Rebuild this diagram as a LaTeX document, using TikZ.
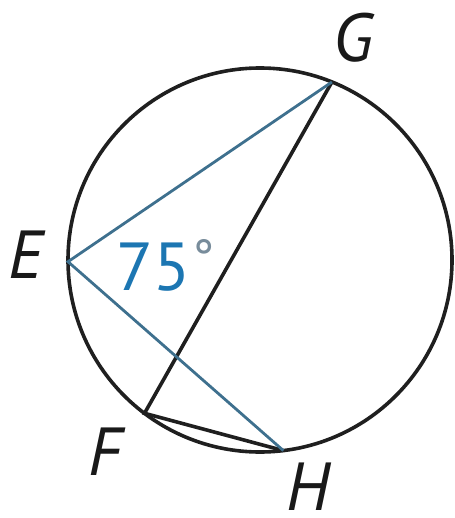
\documentclass[tikz,border=0pt]{standalone}
\usepackage{fontspec}
\setmainfont{PT Sans}
\definecolor{chordblue}{RGB}{62,112,142}
\definecolor{anglblue}{RGB}{28,118,178}
\definecolor{deggray}{RGB}{120,140,155}
\begin{document}
\begin{tikzpicture}[x=1pt,y=-1pt,
  blackline/.style={line width=3.6pt,black!88},
  blueline/.style={line width=2.8pt,chordblue},
  ptlabel/.style={inner sep=0pt,anchor=base west,font=\fontsize{68}{68}\selectfont\itshape,black!90},
  anglabel/.style={inner sep=0pt,anchor=base west,font=\fontsize{68}{68}\selectfont,anglblue}]
\useasboundingbox (0,0) rectangle (454,518);
\coordinate (C) at (260,260);
\coordinate (G) at (331.9,82.0);
\coordinate (E) at (68,261.7);
\coordinate (F) at (144.5,413.3);
\coordinate (H) at (283.4,450.6);
\draw[blackline] (C) circle[radius=192];
\draw[blackline] (G) -- (F) -- (H);
\draw[blueline] (G) -- (E) -- (H);
\node[ptlabel] (lG) at (333,62) {G};
\node[ptlabel] (lE) at (8,278) {E};
\node[ptlabel] (lF) at (88,475) {F};
\node[ptlabel] (lH) at (286,510) {H};
\node[anglabel] (ang) at (116,290) {75\kern2pt\raisebox{14pt}{\textcolor{deggray}{\fontsize{52}{52}\selectfont °}}};
\end{tikzpicture}
\end{document}
